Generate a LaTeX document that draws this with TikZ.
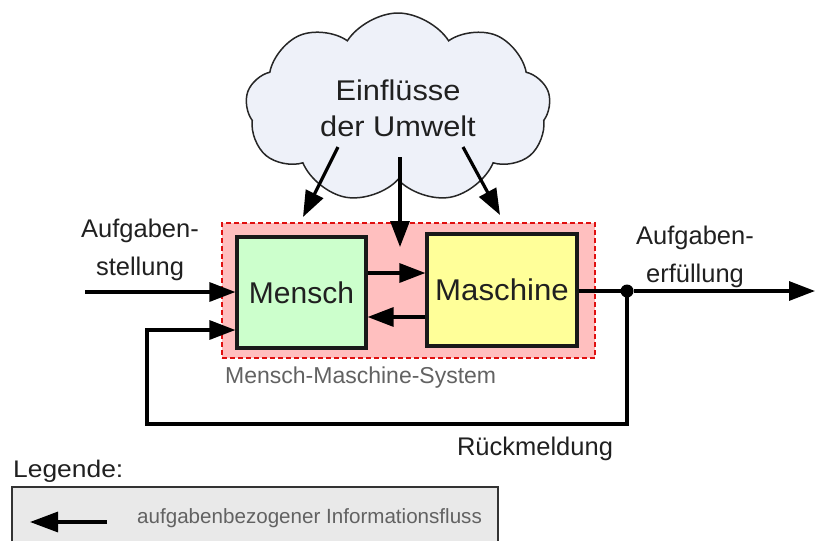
\documentclass[tikz,border=0pt]{standalone}
\usepackage{fontspec}
\setmainfont{Liberation Sans}
\usepackage{graphicx}
\usetikzlibrary{arrows.meta,shapes.symbols}

\definecolor{cloudfill}{HTML}{EEF1F9}
\definecolor{sysfill}{HTML}{FFBFBF}
\definecolor{sysline}{HTML}{E01010}
\definecolor{humanfill}{HTML}{CCFFCC}
\definecolor{machinefill}{HTML}{FFFF99}
\definecolor{legendfill}{HTML}{E9E9E9}
\definecolor{txt}{HTML}{202020}
\definecolor{graytxt}{HTML}{626262}

% horizontal stretch of a piece of text
\newcommand{\wide}[2]{\scalebox{#1}[1]{#2}}
\newcommand{\fs}[2]{\fontsize{#1}{#2}\selectfont}

\tikzset{
  flow/.style={line width=3.2pt, draw=black, -{Triangle[length=26pt,width=19pt]}},
  plainline/.style={line width=3.2pt, draw=black},
  unitbox/.style={draw=black!90, line width=3.2pt, inner sep=0pt, text=txt, font=\fs{30}{36}},
  label/.style={inner sep=0pt, text=txt, font=\fs{25.5}{38}, align=center},
}

\begin{document}
\begin{tikzpicture}[x=1pt,y=-1pt]
\useasboundingbox (0,0) rectangle (816,541);

% environment cloud
\node[cloud, cloud puffs=9, cloud puff arc=115, cloud ignores aspect,
      minimum width=305pt, minimum height=190pt, draw=black!85, line width=1.5pt,
      fill=cloudfill, text=txt, align=center, font=\fs{28.5}{38}]
      (cloud) at (398,108) {\wide{1.08}{Einflüsse}\\[-2pt]\wide{1.08}{der Umwelt}};

% system boundary
\node[draw=sysline, dash pattern=on 5pt off 3pt, line width=2.6pt, fill=sysfill,
      minimum width=373pt, minimum height=135pt, inner sep=0pt]
      (system) at (408.5,290.5) {};
\node[anchor=base west, inner sep=0pt, text=graytxt, font=\fs{23}{27}]
      (systemlabel) at (225,383) {Mensch-Maschine-System};

% components
\node[unitbox, fill=humanfill, minimum width=129pt, minimum height=111pt]
      (mensch) at (301.5,292.5) {Mensch};
\node[unitbox, fill=machinefill, minimum width=150pt, minimum height=112pt]
      (maschine) at (502,290) {\wide{1.04}{Maschine}};

% junction and helper points
\node[circle, fill=black, inner sep=0pt, minimum size=13pt] (junc) at (627,291) {};
\coordinate (inStart) at (85,292);
\coordinate (fbIn) at (147,330);
\coordinate (fbCorner) at (147,424);
\coordinate (outEnd) at (815,291);
\coordinate (fwd) at (400,273);
\coordinate (back) at (400,317);
\coordinate (envLs) at (338,147);
\coordinate (envLe) at (303,217);
\coordinate (envMs) at (400,157);
\coordinate (envMe) at (400,247);
\coordinate (envRs) at (463,147);
\coordinate (envRe) at (500,215);

% information flows
\draw[flow] (inStart) -- (inStart -| mensch.west);
\draw[flow] (mensch.east |- fwd) -- (maschine.west |- fwd);
\draw[flow] (maschine.west |- back) -- (mensch.east |- back);
\draw[plainline] (maschine.east |- junc) -- (junc.center);
\draw[flow] (junc) -- (outEnd);
\draw[flow] (junc.center) |- (fbCorner) |- (fbIn -| mensch.west);

% environmental influences
\draw[flow] (envLs) -- (envLe);
\draw[flow] (envMs) -- (envMe);
\draw[flow] (envRs) -- (envRe);

% labels (anchored at the baseline of the last line)
\node[label, anchor=base] (task) at (140,275) {Aufgaben-\\stellung};
\node[label, anchor=base] (result) at (695,282) {Aufgaben-\\erfüllung};
\node[label, anchor=base] (feedback) at (535,455) {Rückmeldung};

% legend
\node[anchor=base west, inner sep=0pt, text=txt, font=\fs{24}{28}]
      (legendtitle) at (13,477) {\wide{1.1}{Legende:}};
\fill[legendfill] (12,487) rectangle (498,541);
\draw[line width=2pt, draw=black!80] (12,541) -- (12,487) -- (498,487) -- (498,541);
\coordinate (legS) at (107,522);
\coordinate (legE) at (30,522);
\draw[line width=3.2pt, -{Triangle[length=28pt,width=20pt]}] (legS) -- (legE);
\node[anchor=base west, inner sep=0pt, text=graytxt, font=\fs{20.6}{24}]
      (legendtext) at (137,523) {aufgabenbezogener Informationsfluss};
\end{tikzpicture}
\end{document}
